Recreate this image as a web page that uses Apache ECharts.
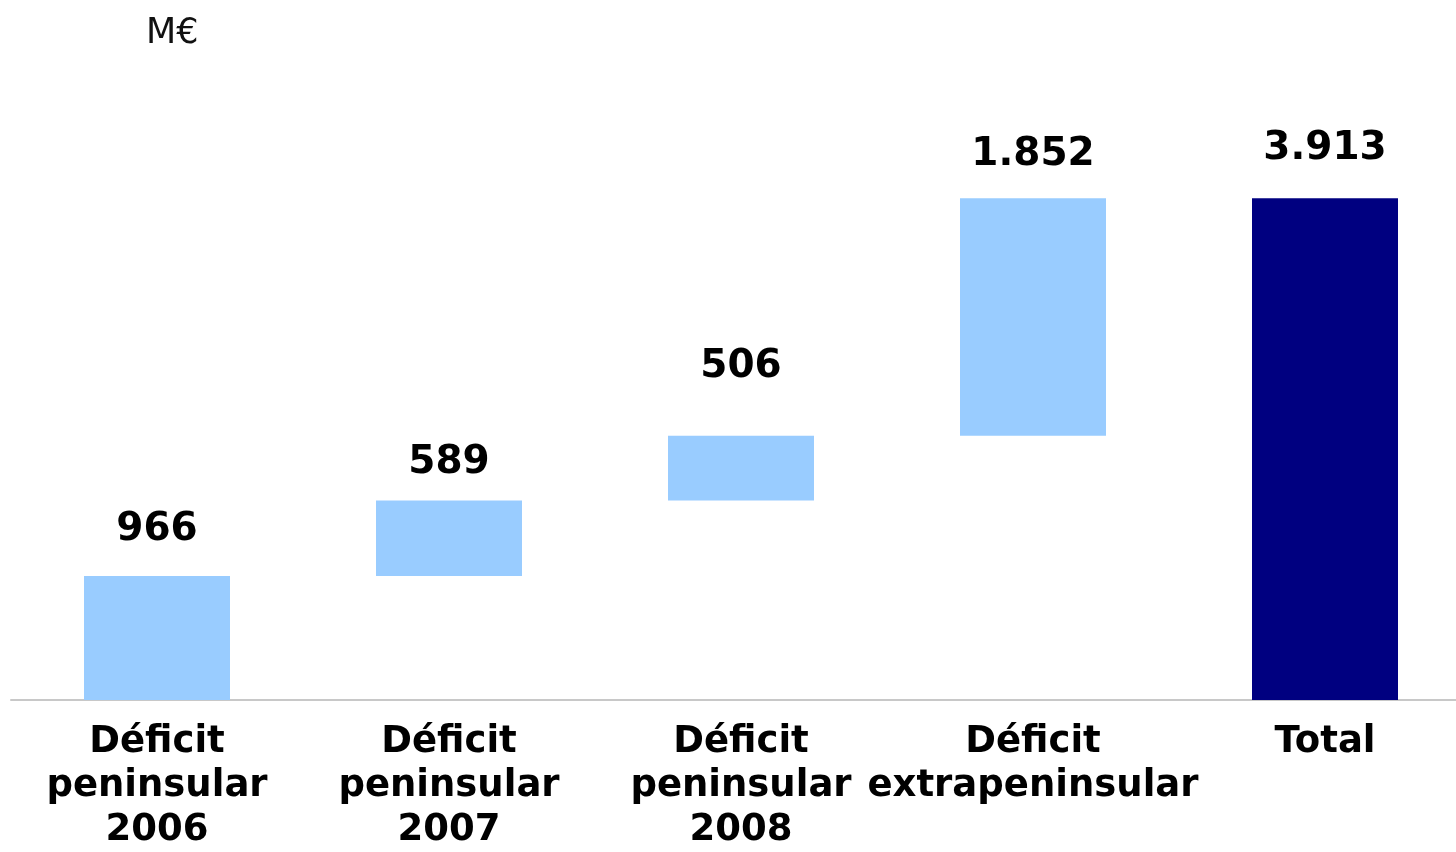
<!DOCTYPE html>
<html>
<head>
<meta charset="utf-8">
<script src="https://cdn.jsdelivr.net/npm/echarts@6/dist/echarts.min.js"></script>
<style>
  html, body { margin: 0; padding: 0; background: #fff; overflow: hidden; }
  /* the slide's plot area runs a little past the right edge */
  #chart { width: 1471px; height: 852px; }
</style>
</head>
<body>
<div id="chart"></div>
<script>
// categories and values (M€)
const categories = [
  'Déficit\npeninsular\n2006',
  'Déficit\npeninsular\n2007',
  'Déficit\npeninsular\n2008',
  'Déficit\nextrapeninsular',
  'Total'
]
const values = [966, 589, 506, 1852, 3913]
const isTotal = [false, false, false, false, true]
const unitLabel = 'M€'

// invisible base for the floating steps
const bases = []
let running = 0
values.forEach((v, i) => {
  if (isTotal[i]) {
    bases.push(0)
  } else {
    bases.push(running)
    running += v
  }
})

// gap between bar top and its label, as in the original slide
const labelGap = [27, 18, 49, 24, 30]

const fmt = v => String(v).replace(/\B(?=(\d{3})+(?!\d))/g, '.')

const chart = echarts.init(document.getElementById('chart'))

chart.setOption({
  animation: false,
  textStyle: { fontFamily: 'DejaVu Sans' },
  title: {
    text: unitLabel,
    left: 141,
    top: 11,
    textStyle: { fontSize: 35, fontWeight: 'normal', color: '#111', fontFamily: 'DejaVu Sans' },
  },
  grid: {
    left: 11,
    right: 0,
    top: 187,
    bottom: 149,
    containLabel: false,
  },
  xAxis: {
    type: 'category',
    data: categories,
    axisTick: { show: false },
    axisLine: { lineStyle: { color: '#c8c8c8', width: 2 } },
    axisLabel: {
      interval: 0,
      margin: 20,
      color: '#000',
      fontSize: 37,
      fontWeight: 'bold',
      lineHeight: 44,
      fontFamily: 'DejaVu Sans',
    },
  },
  yAxis: {
    type: 'value',
    min: 0,
    max: 4000,
    show: false,
    splitLine: { show: false },
  },
  series: [
    {
      type: 'bar',
      stack: 'wf',
      barWidth: 146,
      itemStyle: { color: 'transparent' },
      emphasis: { disabled: true },
      data: bases,
    },
    {
      type: 'bar',
      stack: 'wf',
      barWidth: 146,
      data: values.map((v, i) => ({
        value: v,
        itemStyle: { color: isTotal[i] ? '#000080' : '#99ccff' },
        label: { distance: labelGap[i] },
      })),
      label: {
        show: true,
        position: 'top',
        color: '#000',
        fontSize: 39,
        fontWeight: 'bold',
        fontFamily: 'DejaVu Sans',
        formatter: p => fmt(p.value),
      },
    },
  ],
})

window.addEventListener('resize', () => chart.resize())
</script>
</body>
</html>
